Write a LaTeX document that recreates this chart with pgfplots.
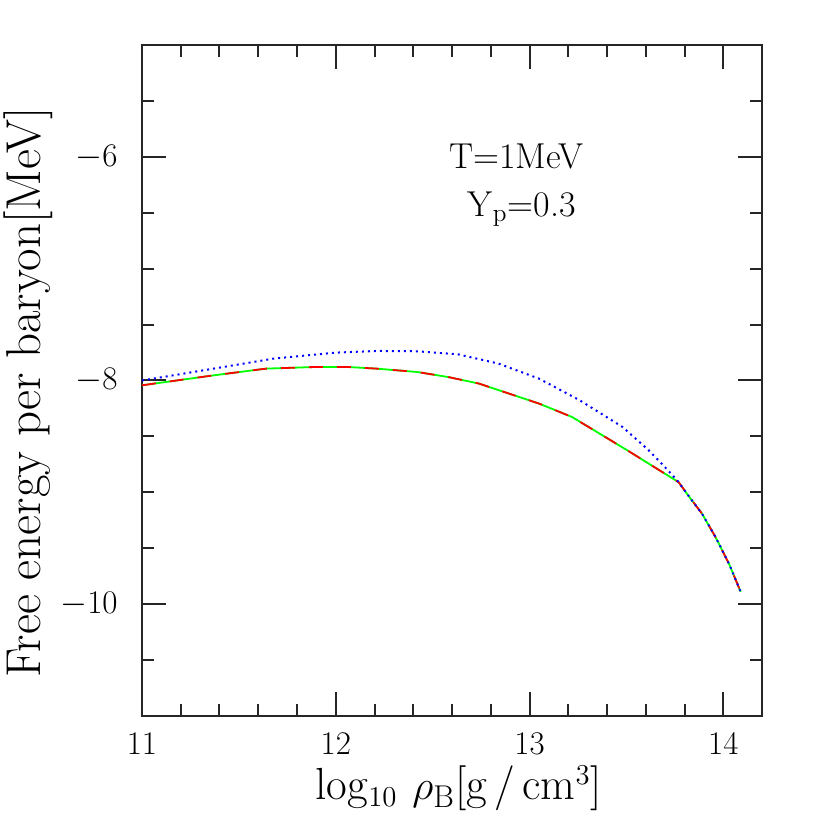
\documentclass[border=0pt]{standalone}
\usepackage{fontspec}
\usepackage{pgfplots}
\pgfplotsset{compat=1.18}
\newcommand\lbl{\fontsize{24.5}{28}\selectfont}
\newcommand\xlbl{\fontsize{22.5}{26}\selectfont}
\newcommand\tlbl{\fontsize{16.5}{20}\selectfont}
\newcommand\txt{\fontsize{18}{21}\selectfont}
\begin{document}
\begin{tikzpicture}
\begin{axis}[
  scale only axis, width=310pt, height=335.5pt,
  xmin=11, xmax=14.2, ymin=-11, ymax=-5,
  xtick={11,12,13,14}, xticklabels={11,12,13,14},
  ytick={-10,-8,-6}, yticklabels={{$-$10},{$-$8},{$-$6}},
  minor xtick={11.2,11.4,11.6,11.8,12.2,12.4,12.6,12.8,13.2,13.4,13.6,13.8},
  minor ytick={-10.5,-9.5,-9,-8.5,-7.5,-7,-6.5,-5.5},
  tick align=inside, tick pos=both,
  major tick length=12pt, minor tick length=6pt,
  axis line style={line width=1pt, black!85},
  every tick/.style={black!85, line width=1pt},
  ticklabel style={font=\tlbl},
  yticklabel style={inner sep=0pt, anchor=east, xshift=-12pt},
  xticklabel style={inner sep=0pt, anchor=north, yshift=-8pt},
  xlabel={log$_{10}$\,\,$\rho_{\mathrm{B}}$[g\,/\,cm$^3$]},
  ylabel={Free energy per baryon[MeV]},
  every axis x label/.style={at={(axis description cs:0.511,-0.1250)}, anchor=base, inner sep=0pt, font=\xlbl},
  every axis y label/.style={at={(axis description cs:-0.1645,0.482)}, anchor=base, rotate=90, inner sep=0pt, font=\lbl},
  clip=false,
]
\addplot[green, line width=0.9pt] coordinates {
(11.0,-8.043) (11.37,-7.954) (11.64,-7.894) (11.90,-7.879) (12.06,-7.879)
(12.21,-7.894) (12.42,-7.924) (12.58,-7.969) (12.74,-8.028) (13.05,-8.207)
(13.22,-8.327) (13.51,-8.63) (13.77,-8.91) (13.82,-9.03) (13.89,-9.19)
(13.96,-9.40) (14.03,-9.64) (14.09,-9.89)};
\addplot[red, line width=0.9pt, dash pattern=on 7pt off 7pt] coordinates {
(11.0,-8.043) (11.37,-7.954) (11.64,-7.894) (11.90,-7.879) (12.06,-7.879)
(12.21,-7.894) (12.42,-7.924) (12.58,-7.969) (12.74,-8.028) (13.05,-8.207)
(13.22,-8.327) (13.51,-8.63) (13.77,-8.91) (13.82,-9.03) (13.89,-9.19)
(13.96,-9.40) (14.03,-9.64) (14.09,-9.89)};
\addplot[blue, line width=1pt, dash pattern=on 1pt off 2pt] coordinates {
(11.0,-8.0) (11.37,-7.894) (11.68,-7.804) (12.0,-7.751) (12.21,-7.736)
(12.42,-7.739) (12.63,-7.766) (12.84,-7.849) (13.05,-7.984) (13.26,-8.178)
(13.48,-8.416) (13.61,-8.615) (13.68,-8.74) (13.75,-8.87) (13.77,-8.91)
(13.82,-9.03) (13.89,-9.19) (13.96,-9.40) (14.03,-9.64) (14.09,-9.89)};
\node[anchor=base west, inner sep=0pt, font=\txt] at (axis cs:12.585,-6.108) {T=1MeV};
\node[anchor=base west, inner sep=0pt, font=\txt] at (axis cs:12.68,-6.53) {Y$_{\mathrm{p}}$=0.3};
\end{axis}
\path (current axis.south west) ++(-71pt,-57pt) coordinate (bl);
\path (current axis.north east) ++(34pt,22.5pt) coordinate (tr);
\path (bl) rectangle (tr);
\end{tikzpicture}
\end{document}
